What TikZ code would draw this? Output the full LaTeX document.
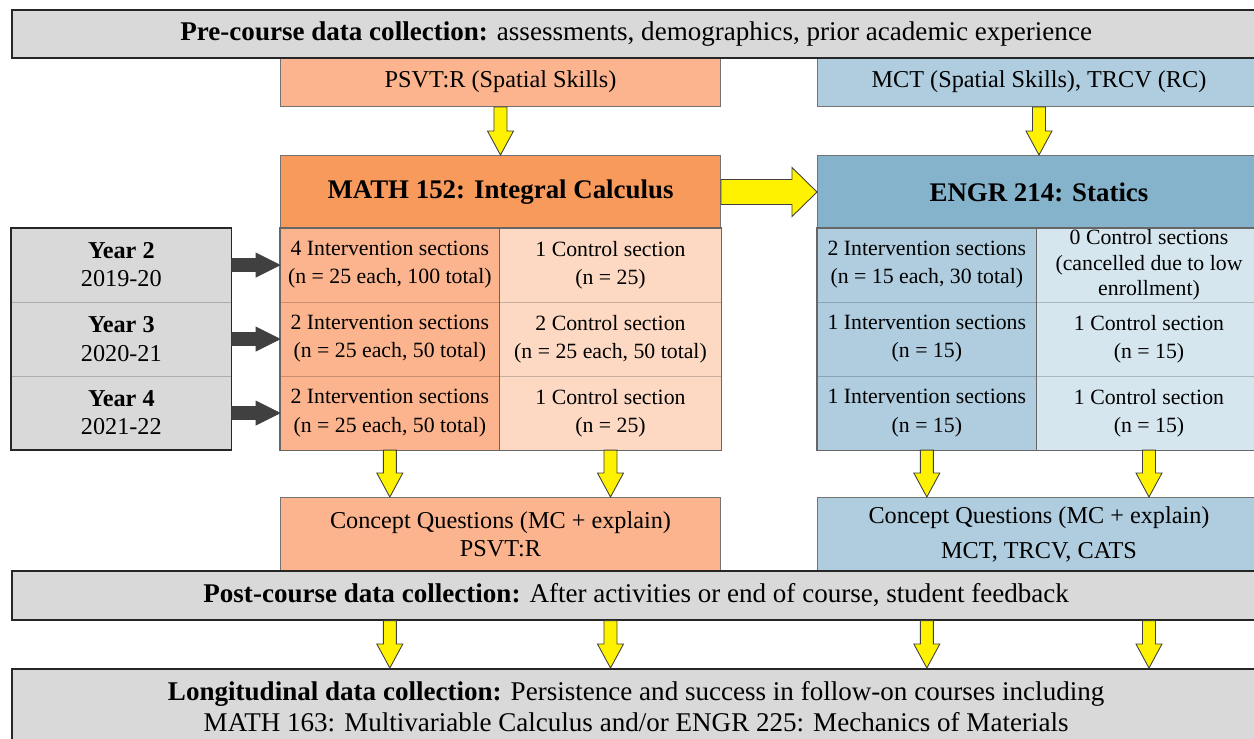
\documentclass[tikz,border=0pt]{standalone}
\usepackage{fontspec}
\setmainfont{Liberation Serif}
\usetikzlibrary{positioning, calc}
\definecolor{mathdark}{HTML}{F79A5C}
\definecolor{mathmid}{HTML}{FBB48D}
\definecolor{mathlight}{HTML}{FDD9C3}
\definecolor{engrdark}{HTML}{85B3CB}
\definecolor{engrmid}{HTML}{AFCDDF}
\definecolor{engrlight}{HTML}{D6E6EE}
\definecolor{panelgray}{HTML}{D9D9D9}
\definecolor{arrowgray}{HTML}{404040}

% block arrows between named nodes
\newcommand{\downblock}[3][yellow block]{%
  \draw[#1] let \p1=(#2), \p2=(#3) in
    (\x1-0.13cm,\y1) -- (\x1-0.13cm,\y2+0.48cm) -- (\x1-0.26cm,\y2+0.48cm)
    -- (\x1,\y2) -- (\x1+0.26cm,\y2+0.48cm) -- (\x1+0.13cm,\y2+0.48cm)
    -- (\x1+0.13cm,\y1) -- cycle;}
\newcommand{\rightblock}[6][yellow block]{%
  \draw[#1] let \p1=(#2), \p2=(#3) in
    (\x1,\y1-#4) -- (\x2-#6,\y1-#4) -- (\x2-#6,\y1-#5) -- (\x2,\y1)
    -- (\x2-#6,\y1+#5) -- (\x2-#6,\y1+#4) -- (\x1,\y1+#4) -- cycle;}

\begin{document}
\begin{tikzpicture}[
  x=0.02cm, y=-0.02cm,
  every node/.style={font=\fontsize{13.8}{16}\selectfont, align=center, inner sep=0pt},
  box/.style={anchor=north west, draw=black!55, line width=0.6pt},
  graybox/.style={anchor=north west, fill=panelgray, draw=black!85, line width=0.9pt,
    minimum width=24.98cm, font=\fontsize{15.4}{17.5}\selectfont},
  headbox/.style={box, minimum width=#1, minimum height=1.46cm,
    font=\fontsize{15.3}{18}\bfseries\selectfont},
  cell/.style={anchor=north west, minimum width=#1, minimum height=1.4667cm},
  sect/.style={cell=#1, font=\fontsize{12.4}{16}\selectfont},
  yellow block/.style={fill=yellow, draw=black!75, line width=0.5pt},
  dark block/.style={fill=arrowgray, draw=arrowgray, line width=0.4pt},
  sepline/.style={draw=black, draw opacity=0.2, line width=0.6pt},
  outline/.style={draw=black!60, line width=0.6pt}
]
  \fill[white] (0,0) rectangle (1254,738);
  \useasboundingbox (0,0) rectangle (1254,738);

  % pre-course tests
  \node[box, fill=mathmid, minimum width=8.8cm, minimum height=0.98cm] (psvt) at (280,57)
    {PSVT:R (Spatial Skills)};
  \node[box, fill=engrmid, minimum width=8.86cm, minimum height=0.98cm] (mct) at (817,57)
    {MCT (Spatial Skills), TRCV (RC)};
  \node[graybox, minimum height=0.96cm] (pre) at (11,9)
    {\textbf{Pre-course data collection:} assessments, demographics, prior academic experience};

  % course headers
  \node[headbox=8.8cm, fill=mathdark] (math) at (280,155) {MATH 152: Integral Calculus};
  \node[headbox=8.86cm, fill=engrdark] (engr) at (817,155) {ENGR 214: Statics};

  % years
  \node[cell=4.4cm, fill=panelgray] (y2) at (11,228) {\textbf{Year 2}\\2019-20};
  \node[cell=4.4cm, fill=panelgray, below=0pt of y2] (y3) {\textbf{Year 3}\\2020-21};
  \node[cell=4.4cm, fill=panelgray, below=0pt of y3] (y4) {\textbf{Year 4}\\2021-22};

  % MATH 152 sections
  \node[sect=4.38cm, fill=mathmid] (m2i) at (280,228)
    {4 Intervention sections\\(n = 25 each, 100 total)};
  \node[sect=4.42cm, fill=mathlight, right=0pt of m2i] (m2c) {1 Control section\\(n = 25)};
  \node[sect=4.38cm, fill=mathmid, below=0pt of m2i] (m3i)
    {2 Intervention sections\\(n = 25 each, 50 total)};
  \node[sect=4.42cm, fill=mathlight, right=0pt of m3i] (m3c)
    {2 Control section\\(n = 25 each, 50 total)};
  \node[sect=4.38cm, fill=mathmid, below=0pt of m3i] (m4i)
    {2 Intervention sections\\(n = 25 each, 50 total)};
  \node[sect=4.42cm, fill=mathlight, right=0pt of m4i] (m4c) {1 Control section\\(n = 25)};

  % ENGR 214 sections
  \node[sect=4.38cm, fill=engrmid] (e2i) at (817,228)
    {2 Intervention sections\\(n = 15 each, 30 total)};
  \node[sect=4.48cm, fill=engrlight, right=0pt of e2i,
    font=\fontsize{12.4}{14.5}\selectfont] (e2c)
    {0 Control sections\\(cancelled due to low\\enrollment)};
  \node[sect=4.38cm, fill=engrmid, below=0pt of e2i] (e3i) {1 Intervention sections\\(n = 15)};
  \node[sect=4.48cm, fill=engrlight, right=0pt of e3i] (e3c) {1 Control section\\(n = 15)};
  \node[sect=4.38cm, fill=engrmid, below=0pt of e3i] (e4i) {1 Intervention sections\\(n = 15)};
  \node[sect=4.48cm, fill=engrlight, right=0pt of e4i] (e4c) {1 Control section\\(n = 15)};

  % grid lines
  \foreach \a/\b in {y2/y2, y3/y3, m2i/m2c, m3i/m3c, e2i/e2c, e3i/e3c}
    \draw[sepline] (\a.south west) -- (\b.south east);
  \draw[outline, draw=black!85, line width=0.9pt] (y2.north west) rectangle (y4.south east);
  \draw[outline] (m2i.north west) rectangle (m4c.south east);
  \draw[outline] (m2c.north west) -- (m4c.south west);
  \draw[outline] (e2i.north west) rectangle (e4c.south east);
  \draw[outline] (e2c.north west) -- (e4c.south west);

  % concept questions
  \node[box, fill=mathmid, minimum width=8.8cm, minimum height=1.46cm] (cqm) at (280,497)
    {Concept Questions (MC + explain)\\PSVT:R};
  \node[box, fill=engrmid, minimum width=8.86cm, minimum height=1.46cm] (cqe) at (817,497)
    {Concept Questions (MC + explain)\\[4pt]MCT, TRCV, CATS};

  \node[graybox, minimum height=0.98cm] (post) at (11,570)
    {\textbf{Post-course data collection:} After activities or end of course, student feedback};
  \node[graybox, minimum height=1.52cm] (long) at (11,668)
    {\textbf{Longitudinal data collection:} Persistence and success in follow-on courses including\\
     MATH 163: Multivariable Calculus and/or ENGR 225: Mechanics of Materials};

  % arrows
  \downblock{psvt.south}{math.north}
  \downblock{mct.south}{engr.north}
  \rightblock{math.east}{engr.west}{0.25cm}{0.49cm}{0.5cm}
  \foreach \a/\b in {y2/m2i, y3/m3i, y4/m4i}
    \rightblock[dark block]{\a.east}{\b.west}{0.13cm}{0.24cm}{0.48cm};
  \downblock{m4i.south}{cqm.north}
  \downblock{m4c.south}{cqm.north}
  \downblock{e4i.south}{cqe.north}
  \downblock{e4c.south}{cqe.north}
  \foreach \c in {m4i, m4c, e4i, e4c}
    \downblock{post.south -| \c.south}{long.north};
\end{tikzpicture}
\end{document}
